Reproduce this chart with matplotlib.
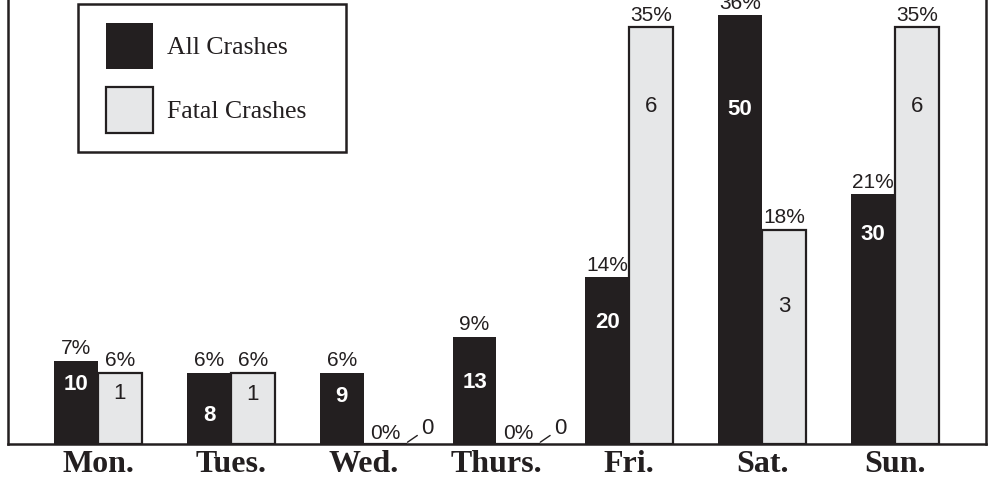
import matplotlib
matplotlib.use("Agg")
import matplotlib.pyplot as plt
from matplotlib.patches import Rectangle
import numpy as np

# --- veriler ---
days = ["Mon.", "Tues.", "Wed.", "Thurs.", "Fri.", "Sat.", "Sun."]
all_counts = [10, 8, 9, 13, 20, 50, 30]
all_pct = [7, 6, 6, 9, 14, 36, 21]
fatal_counts = [1, 1, 0, 0, 6, 3, 6]
fatal_pct = [6, 6, 0, 0, 35, 18, 35]

# sayilarin cubuk icindeki yeri (cubuk yuksekliginin orani)
all_label_frac = [0.71, 0.40, 0.66, 0.57, 0.73, 0.78, 0.84]
fatal_label_frac = [0.71, 0.69, 0.0, 0.0, 0.81, 0.64, 0.81]

DARK = "#231f20"
LIGHT = "#e6e7e8"
sans = ["Liberation Sans", "DejaVu Sans"]
serif = ["Liberation Serif", "DejaVu Serif"]

W, H = 991, 478
fig = plt.figure(figsize=(W / 100, H / 100), dpi=100)
ax = fig.add_axes([8 / W, 34 / H, 978 / W, 444 / H])

x = np.arange(len(days))
w = 0.33
b1 = ax.bar(x - w, all_pct, w, align="edge", color=DARK, edgecolor=DARK, linewidth=0)
b2 = ax.bar(x, fatal_pct, w, align="edge", color=LIGHT, edgecolor=DARK, linewidth=1.6)

for i in range(len(days)):
    # All crashes
    ax.text(x[i] - w / 2, all_pct[i] + 0.2, f"{all_pct[i]}%", ha="center", va="bottom",
            fontsize=15, family=sans, color=DARK)
    ax.text(x[i] - w / 2, all_pct[i] * all_label_frac[i], str(all_counts[i]), ha="center",
            va="center", fontsize=16, family=sans, color="white", fontweight="bold")
    # Fatal crashes
    if fatal_pct[i] > 0:
        ax.text(x[i] + w / 2, fatal_pct[i] + 0.2, f"{fatal_pct[i]}%", ha="center", va="bottom",
                fontsize=15, family=sans, color=DARK)
        ax.text(x[i] + w / 2, fatal_pct[i] * fatal_label_frac[i], str(fatal_counts[i]),
                ha="center", va="center", fontsize=16, family=sans, color=DARK)
    else:
        ax.text(x[i] + w / 2, 0.1, f"{fatal_pct[i]}%", ha="center", va="bottom",
                fontsize=15, family=sans, color=DARK)
        ax.annotate(str(fatal_counts[i]), xy=(x[i] + w, 0.15), xytext=(x[i] + w + 0.15, 1.3),
                    ha="center", va="center", fontsize=16, family=sans, color=DARK,
                    arrowprops=dict(arrowstyle="-", color=DARK, lw=1, shrinkA=1, shrinkB=0))

ax.set_xlim(-0.678, 6.686)
ax.set_ylim(0, 37.3)
ax.set_xticks(x)
ax.set_xticklabels(days, fontsize=23, fontweight="bold", family=serif, color=DARK)
ax.tick_params(axis="x", length=0, pad=4)
ax.set_yticks([])
for s in ["left", "right", "bottom"]:
    ax.spines[s].set_linewidth(1.8)
    ax.spines[s].set_color(DARK)
ax.spines["top"].set_visible(False)

# lejant: cerceveyi elle ciziyoruz
leg = ax.legend([b1, b2], ["All Crashes", "Fatal Crashes"], loc="upper left",
                bbox_to_anchor=(106 / W, 1 - 23 / H), bbox_transform=fig.transFigure,
                prop={"family": serif, "size": 18.5}, handlelength=1.83, handleheight=2.35,
                handletextpad=0.55, labelspacing=0.73, borderpad=0, frameon=False,
                borderaxespad=0)
for t in leg.get_texts():
    t.set_color(DARK)
fig.patches.append(Rectangle((78 / W, 1 - 152 / H), 268 / W, 148 / H, transform=fig.transFigure,
                             fill=False, edgecolor=DARK, linewidth=1.8))

fig.savefig("out.png", dpi=100)
